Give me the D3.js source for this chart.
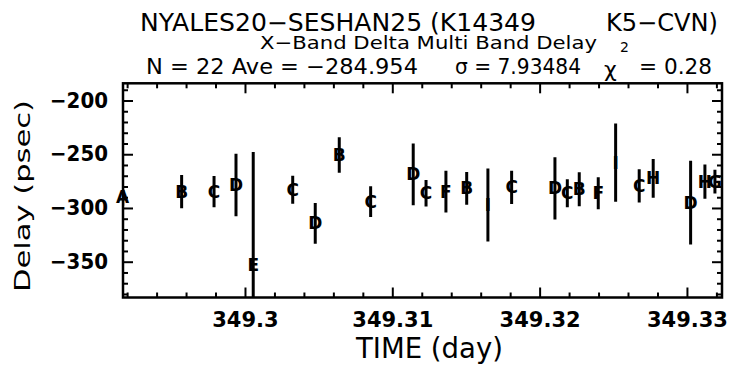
<!DOCTYPE html>
<html>
<head>
<meta charset="utf-8">
<script src="https://cdn.jsdelivr.net/npm/d3@7"></script>
<style>
  body { margin: 0; background: #fff; }
  text { font-family: 'DejaVu Sans', sans-serif; fill: #000; }
</style>
</head>
<body>
<script>
// scan times (day), delays (psec), errors (psec) and station letter
const times = [349.2917, 349.2957, 349.2979, 349.29939, 349.30056, 349.30324, 349.30477, 349.3064,
  349.30853, 349.31142, 349.31229, 349.31364, 349.31505, 349.31649, 349.3181, 349.32104,
  349.32188, 349.32269, 349.32398, 349.32516, 349.32676, 349.32771, 349.33025, 349.33122, 349.3319]
const delays = [-290, -284.8, -284.8, -278.6, -353, -283, -314.3, -250.7,
  -294.1, -268.7, -286.3, -284.8, -281.7, -297.2, -280.8, -281.7,
  -286.3, -282.6, -286.3, -257.7, -279.5, -272.4, -295.1, -275.5, -275.5]
const errors = [8, 15.5, 14.5, 29, 105, 13, 19, 16.5,
  14.2, 28.7, 12.4, 19.4, 15.2, 34, 15.5, 29,
  13, 15.8, 15, 36.4, 15.5, 18, 39, 16, 11]
const letters = ['A', 'B', 'C', 'D', 'E', 'C', 'D', 'B',
  'C', 'D', 'C', 'F', 'B', 'I', 'C', 'D',
  'C', 'B', 'F', 'I', 'C', 'H', 'D', 'H', 'G']

const xMajorTicks = [349.30, 349.31, 349.32, 349.33]
const xMinorTicks = [349.292, 349.294, 349.296, 349.298, 349.302, 349.304, 349.306, 349.308,
  349.312, 349.314, 349.316, 349.318, 349.322, 349.324, 349.326, 349.328, 349.332]
const xTickLabels = ['349.3', '349.31', '349.32', '349.33']
const yMajorTicks = [-350, -300, -250, -200]
const yMinorTicks = [-380, -370, -360, -340, -330, -320, -310, -290, -280, -270, -260,
  -240, -230, -220, -210, -190]
const yTickLabels = ['\u2212350', '\u2212300', '\u2212250', '\u2212200']

const width = 730
const height = 367
const plotLeft = 123, plotRight = 722, plotTop = 83.3, plotBottom = 297.5

const x = d3.scaleLinear().domain([349.29172, 349.33238]).range([plotLeft, plotRight])
const y = d3.scaleLinear().domain([-383.3, -184]).range([plotBottom, plotTop])

const svg = d3.select('body')
  .append('svg')
  .attr('width', width)
  .attr('height', height)

svg.append('defs').append('clipPath')
  .attr('id', 'plot-clip')
  .append('rect')
  .attr('x', plotLeft)
  .attr('y', plotTop)
  .attr('width', plotRight - plotLeft)
  .attr('height', plotBottom - plotTop)

// ticks on all four sides, pointing inwards
function styleAxis(g) {
  g.select('.domain').remove()
  g.selectAll('line').attr('stroke', '#000').attr('stroke-width', 2)
}

svg.append('g')
  .attr('transform', `translate(0,${plotBottom})`)
  .call(d3.axisBottom(x).tickValues(xMajorTicks).tickSize(-10)
    .tickFormat((d, i) => xTickLabels[i]))
  .call(styleAxis)
  .call(g => g.selectAll('text')
    .attr('y', 29.2).attr('dy', null)
    .attr('font-size', 21).attr('font-weight', 'bold')
    .attr('font-family', "'Liberation Sans', sans-serif"))

svg.append('g')
  .attr('transform', `translate(0,${plotBottom})`)
  .call(d3.axisBottom(x).tickValues(xMinorTicks).tickSize(-5).tickFormat(''))
  .call(styleAxis)

svg.append('g')
  .attr('transform', `translate(0,${plotTop})`)
  .call(d3.axisTop(x).tickValues(xMajorTicks).tickSize(-10).tickFormat(''))
  .call(styleAxis)

svg.append('g')
  .attr('transform', `translate(0,${plotTop})`)
  .call(d3.axisTop(x).tickValues(xMinorTicks).tickSize(-5).tickFormat(''))
  .call(styleAxis)

svg.append('g')
  .attr('transform', `translate(${plotLeft},0)`)
  .call(d3.axisLeft(y).tickValues(yMajorTicks).tickSize(-10).tickPadding(15)
    .tickFormat((d, i) => yTickLabels[i]))
  .call(styleAxis)
  .call(g => g.selectAll('text')
    .attr('font-size', 21).attr('font-weight', 'bold')
    .attr('font-family', "'Liberation Sans', sans-serif")
    .attr('textLength', 58).attr('lengthAdjust', 'spacingAndGlyphs'))

svg.append('g')
  .attr('transform', `translate(${plotLeft},0)`)
  .call(d3.axisLeft(y).tickValues(yMinorTicks).tickSize(-5).tickFormat(''))
  .call(styleAxis)

svg.append('g')
  .attr('transform', `translate(${plotRight},0)`)
  .call(d3.axisRight(y).tickValues(yMajorTicks).tickSize(-10).tickFormat(''))
  .call(styleAxis)

svg.append('g')
  .attr('transform', `translate(${plotRight},0)`)
  .call(d3.axisRight(y).tickValues(yMinorTicks).tickSize(-5).tickFormat(''))
  .call(styleAxis)

// error bars
const points = times.map((t, i) => ({ t: t, v: delays[i], e: errors[i], s: letters[i] }))

svg.append('g')
  .attr('clip-path', 'url(#plot-clip)')
  .selectAll('line')
  .data(points)
  .enter()
  .append('line')
  .attr('x1', d => x(d.t))
  .attr('x2', d => x(d.t))
  .attr('y1', d => y(d.v - d.e))
  .attr('y2', d => y(d.v + d.e))
  .attr('stroke', '#000')
  .attr('stroke-width', 3)

svg.append('g')
  .selectAll('text')
  .data(points)
  .enter()
  .append('text')
  .attr('x', d => x(d.t))
  .attr('y', d => y(d.v))
  .attr('dy', '0.36em')
  .attr('text-anchor', 'middle')
  .attr('font-size', 17)
  .attr('font-weight', 'bold')
  .text(d => d.s)

// frame
svg.append('rect')
  .attr('x', plotLeft)
  .attr('y', plotTop)
  .attr('width', plotRight - plotLeft)
  .attr('height', plotBottom - plotTop)
  .attr('fill', 'none')
  .attr('stroke', '#000')
  .attr('stroke-width', 2.5)

// titles
function fitText(str, x0, x1, base, size) {
  return svg.append('text')
    .attr('x', x0)
    .attr('y', base)
    .attr('font-size', size)
    .attr('textLength', x1 - x0)
    .attr('lengthAdjust', 'spacingAndGlyphs')
    .text(str)
}

fitText('NYALES20\u2212SESHAN25 (K14349', 140, 536, 31, 24)
fitText('K5\u2212CVN)', 606, 718, 31, 24)
fitText('X\u2212Band Delta Multi Band Delay', 260, 597, 49.3, 18)
fitText('N = 22 Ave = \u2212284.954', 146, 418, 74, 22)
fitText('\u03c3 = 7.93484', 455, 581, 74, 22)
fitText('= 0.28', 639, 712, 74, 22)

svg.append('text')
  .attr('x', 604)
  .attr('y', 77)
  .attr('font-size', 22)
  .text('\u03c7')

svg.append('text')
  .attr('x', 620)
  .attr('y', 52)
  .attr('font-size', 14)
  .text('2')

fitText('TIME (day)', 356, 503, 358.3, 29)

svg.append('text')
  .attr('transform', 'translate(30,196) rotate(-90)')
  .attr('text-anchor', 'middle')
  .attr('font-size', 21)
  .attr('textLength', 192)
  .attr('lengthAdjust', 'spacingAndGlyphs')
  .text('Delay (psec)')
</script>
</body>
</html>
